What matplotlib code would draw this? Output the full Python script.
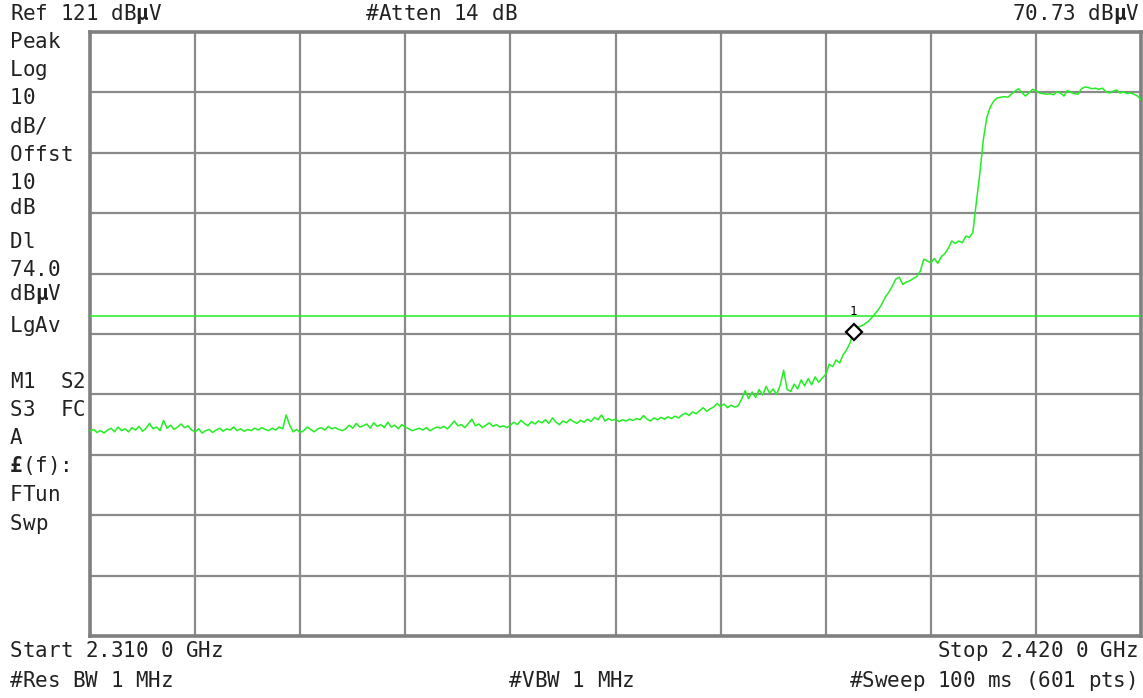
import numpy as np
import matplotlib
matplotlib.use("Agg")
import matplotlib.pyplot as plt

# analyzer settings
start_ghz = 2.310
stop_ghz = 2.420
ref_level = 121.0
db_per_div = 10
display_line = 74.0
marker_index = 218
marker_readout = "70.73 dBµV"

# trace values in dBuV, every second sweep point (301 of 601 pts)
trace_db = [
    54.9, 55.2, 54.7, 55.0, 54.6, 55.1, 55.4, 54.8, 55.6, 55.0,
    55.3, 54.8, 55.5, 55.1, 55.7, 54.9, 55.4, 56.2, 55.3, 55.6,
    55.0, 56.7, 55.4, 55.9, 55.2, 55.6, 56.1, 55.5, 55.8, 55.1,
    54.8, 55.3, 54.6, 55.0, 55.2, 54.7, 55.1, 55.4, 54.9, 55.3,
    55.1, 55.6, 55.0, 55.3, 54.9, 55.2, 55.0, 55.4, 55.1, 55.5,
    55.2, 55.0, 55.4, 55.1, 55.6, 55.3, 57.6, 55.9, 54.8, 55.2,
    54.7, 55.0, 55.6, 55.2, 54.8, 55.3, 55.5, 55.1, 55.7, 55.3,
    55.5, 55.2, 55.0, 55.3, 55.9, 55.4, 56.2, 55.6, 55.8, 56.1,
    55.4, 56.3, 55.7, 56.0, 55.5, 56.4, 55.6, 55.9, 55.3, 56.0,
    55.6, 55.3, 55.0, 55.2, 55.4, 55.1, 55.5, 55.0, 55.3, 55.6,
    55.4, 55.7, 55.3, 55.9, 56.6, 55.8, 56.0, 55.5, 56.2, 56.9,
    55.8, 56.1, 55.5, 55.9, 56.3, 55.7, 56.0, 55.6, 55.8, 55.5,
    55.9, 56.4, 56.0, 56.7, 56.2, 55.8, 56.5, 56.1, 56.6, 56.3,
    56.8, 56.2, 57.1, 56.4, 56.0, 56.6, 56.3, 56.9, 56.5, 56.2,
    56.7, 56.4, 56.9, 56.5, 57.2, 56.8, 57.6, 56.6, 57.0, 56.7,
    56.9, 56.5, 56.8, 56.6, 56.9, 56.7, 57.0, 56.8, 57.5, 56.9,
    56.6, 57.1, 56.8, 57.2, 56.9, 57.3, 57.0, 57.4, 57.1, 57.6,
    57.9, 57.5, 58.1, 57.8, 58.3, 58.8, 58.2, 58.6, 58.9, 59.5,
    59.0, 59.4, 58.8, 59.2, 58.9, 59.1, 60.2, 61.6, 60.3, 61.4,
    60.5, 61.8, 60.9, 62.3, 61.2, 61.9, 61.0, 62.5, 65.0, 61.8,
    61.5, 62.7, 61.9, 63.4, 62.4, 63.6, 62.6, 63.9, 63.0, 63.7,
    64.3, 66.0, 65.6, 66.7, 66.2, 67.6, 68.4, 69.6, 71.4, 72.0,
    72.3, 72.6, 73.0, 73.6, 74.3, 75.0, 75.9, 77.1, 77.9, 78.9,
    80.1, 80.4, 79.2, 79.6, 79.8, 80.2, 80.5, 81.4, 83.4, 83.1,
    82.8, 83.5, 82.7, 83.8, 84.3, 85.2, 86.4, 86.0, 86.4, 86.1,
    87.2, 87.0, 87.8, 92.8, 97.6, 103.2, 106.9, 108.6, 109.6, 110.1,
    110.2, 110.3, 110.2, 110.7, 111.2, 111.6, 111.0, 110.4, 110.9, 111.5,
    111.3, 110.9, 110.8, 110.7, 110.8, 110.6, 111.1, 110.9, 110.4, 111.3,
    111.0, 110.8, 110.7, 111.6, 111.9, 111.8, 111.6, 111.7, 111.5, 111.7,
    111.1, 110.9, 111.2, 111.4, 110.9, 111.1, 110.8, 110.9, 110.7, 110.4, 109.8,
]

left_labels = ["Peak", "Log", "10", "dB/", "Offst", "10", "dB", "Dl", "74.0",
               "dBµV", "LgAv", "M1  S2", "S3  FC", "A", "£(f):", "FTun", "Swp"]
left_label_y = [42, 70, 98, 127, 155, 183, 208, 242, 270, 294, 326,
                382, 410, 438, 466, 495, 524]

W, H = 1143, 698
fig = plt.figure(figsize=(W / 100, H / 100), dpi=100)
fig.patch.set_facecolor("white")
ax = fig.add_axes([90 / W, 1 - 636 / H, 1051 / W, 604 / H])

freq = np.linspace(start_ghz, stop_ghz, len(trace_db))
bottom = ref_level - 10 * db_per_div

ax.plot(freq, trace_db, color="#22ee22", lw=1.1, zorder=3)
ax.axhline(display_line, color="#22ee22", lw=1.1, zorder=3)
# marker 1
mx = freq[marker_index]
my = trace_db[marker_index]
ax.plot(mx, my, marker="D", ms=8, mfc="white", mec="black", mew=1.6, zorder=4)
ax.annotate("1", (mx, my), xytext=(0, 10), textcoords="offset points",
            ha="center", va="bottom", fontsize=9, family="DejaVu Sans Mono", zorder=4)

ax.set_xlim(start_ghz, stop_ghz)
ax.set_ylim(bottom, ref_level)
ax.set_xticks(np.linspace(start_ghz, stop_ghz, 11))
ax.set_yticks(np.linspace(bottom, ref_level, 11))
ax.tick_params(length=0, labelbottom=False, labelleft=False)
ax.grid(True, color="#8a8a8a", lw=1.6)
ax.set_axisbelow(True)
for s in ax.spines.values():
    s.set_color("#808080")
    s.set_linewidth(2.6)

mono = "DejaVu Sans Mono"
cw = 15 * 0.602 * 100 / 72  # char width in px


def put(x, y, s, ha="left"):
    # write text in pixel coords, µ and £ drawn bold like the screen font
    if ha == "right":
        x = x - len(s) * cw
    for k, ch in enumerate(s):
        if ch == " ":
            continue
        wt = "bold" if ch in "µ£" else "normal"
        fig.text((x + k * cw) / W, 1 - y / H, ch, fontsize=15, family=mono,
                 weight=wt, color="#222222", ha="left", va="center")


put(10, 14, "Ref 121 dBµV")
put(366, 14, "#Atten 14 dB")
put(1138, 14, marker_readout, ha="right")
for lab, yy in zip(left_labels, left_label_y):
    put(10, yy, lab)
put(10, 651, "Start 2.310 0 GHz")
put(1138, 651, "Stop 2.420 0 GHz", ha="right")
put(10, 681, "#Res BW 1 MHz")
put(509, 681, "#VBW 1 MHz")
put(1138, 681, "#Sweep 100 ms (601 pts)", ha="right")

fig.savefig("out.png", dpi=100)
